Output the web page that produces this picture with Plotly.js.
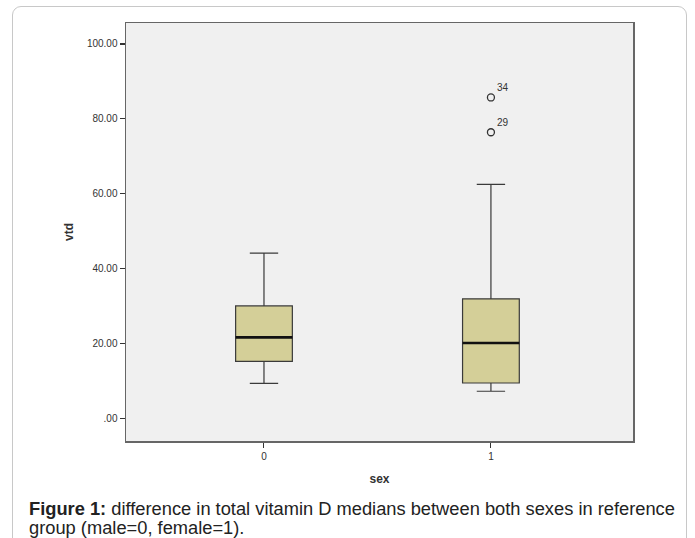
<!DOCTYPE html>
<html>
<head>
<meta charset="utf-8">
<script src="https://cdn.plot.ly/plotly-3.0.1.min.js"></script>
<style>
  html, body { margin: 0; padding: 0; background: #ffffff; }
  #wrap { position: relative; width: 695px; height: 538px; overflow: hidden; }
  #frame { position: absolute; left: 12px; top: 6px; width: 675px; height: 560px;
           border: 1.5px solid #c8c8c8; border-radius: 9px; box-sizing: border-box; }
  #chart { position: absolute; left: 0; top: 0; width: 695px; height: 538px; }
</style>
</head>
<body>
<div id="wrap">
  <div id="frame"></div>
  <div id="chart"></div>
</div>
<script>
// ---- data ----
const categories = [0, 1];
const tickLabels = ["0", "1"];
const lowerWhisker = [9.3, 7.2];
const q1 = [15.2, 9.4];
const median = [21.6, 20.1];
const q3 = [30.0, 31.9];
const upperWhisker = [44.1, 62.5];
const outlierX = [1, 1];
const outlierY = [85.7, 76.4];
const outlierLabels = ["34", "29"];
const yTickVals = [0, 20, 40, 60, 80, 100];
const yTickText = [".00", "20.00", "40.00", "60.00", "80.00", "100.00"];

const boxWidth = 0.25;

const boxTrace = {
  type: "box",
  x: categories,
  q1: q1,
  median: median,
  q3: q3,
  lowerfence: lowerWhisker,
  upperfence: upperWhisker,
  width: boxWidth,
  whiskerwidth: 0.5,
  fillcolor: "#d4cf98",
  line: { color: "#3a3a3a", width: 1.2 },
  boxpoints: false,
  hoverinfo: "skip",
  showlegend: false
};

// thick median lines, built from the median array
const mx = [], my = [];
categories.forEach((c, i) => {
  mx.push(c - boxWidth / 2, c + boxWidth / 2, null);
  my.push(median[i], median[i], null);
});
const medianTrace = {
  type: "scatter", mode: "lines", x: mx, y: my,
  line: { color: "#111111", width: 2.6 },
  hoverinfo: "skip", showlegend: false
};

const outlierTrace = {
  type: "scatter", mode: "markers",
  x: outlierX, y: outlierY,
  marker: { symbol: "circle-open", size: 7, color: "#333333", line: { width: 1.3, color: "#333333" } },
  hoverinfo: "skip", showlegend: false
};

const annotations = outlierX.map((x, i) => ({
  x: x, y: outlierY[i], xref: "x", yref: "y",
  text: outlierLabels[i], showarrow: false,
  xanchor: "left", yanchor: "bottom", xshift: 4, yshift: 2,
  font: { family: "Liberation Sans, Arial, sans-serif", size: 10, color: "#333333" }
}));

// caption
const capFont = { family: "Liberation Sans, Arial, sans-serif", size: 18.3, color: "#222222" };
const plotL = 126, plotR = 633, plotT = 23, plotB = 441;
const pw = plotR - plotL, ph = plotB - plotT;
function px(x) { return (x - plotL) / pw; }
function py(y) { return (plotB - y) / ph; }
annotations.push({
  xref: "paper", yref: "paper", x: px(27), y: py(496), xanchor: "left", yanchor: "top",
  showarrow: false, align: "left",
  text: "<b>Figure 1:</b> difference in total vitamin D medians between both sexes in reference",
  font: capFont
});
annotations.push({
  xref: "paper", yref: "paper", x: px(27), y: py(515), xanchor: "left", yanchor: "top",
  showarrow: false, align: "left",
  text: "group (male=0, female=1).",
  font: capFont
});

const layout = {
  width: 695, height: 538,
  margin: { l: plotL, r: 695 - plotR, t: plotT, b: 538 - plotB, pad: 0 },
  paper_bgcolor: "rgba(0,0,0,0)",
  plot_bgcolor: "#f0f0f0",
  font: { family: "Liberation Sans, Arial, sans-serif", color: "#333333" },
  xaxis: {
    range: [-0.608, 1.626],
    tickvals: categories, ticktext: tickLabels,
    ticks: "outside", ticklen: 5, tickwidth: 1, tickcolor: "#333333",
    showgrid: false, zeroline: false,
    showline: true, mirror: true, linecolor: "#666666", linewidth: 1.5,
    tickfont: { size: 10, color: "#333333" },
    title: { text: "<b>sex</b>", font: { size: 12, color: "#333333" }, standoff: 14 }
  },
  yaxis: {
    range: [-6.1, 105.6],
    tickvals: yTickVals, ticktext: yTickText,
    ticks: "outside", ticklen: 5, tickwidth: 1.2, tickcolor: "#333333",
    showgrid: false, zeroline: false,
    showline: true, mirror: true, linecolor: "#666666", linewidth: 1.5,
    tickfont: { size: 10, color: "#333333" },
    title: { text: "<b>vtd</b>", font: { size: 12, color: "#333333" }, standoff: 10 }
  },
  annotations: annotations
};

Plotly.newPlot("chart", [boxTrace, medianTrace, outlierTrace], layout, { staticPlot: true, displayModeBar: false });
</script>
</body>
</html>
